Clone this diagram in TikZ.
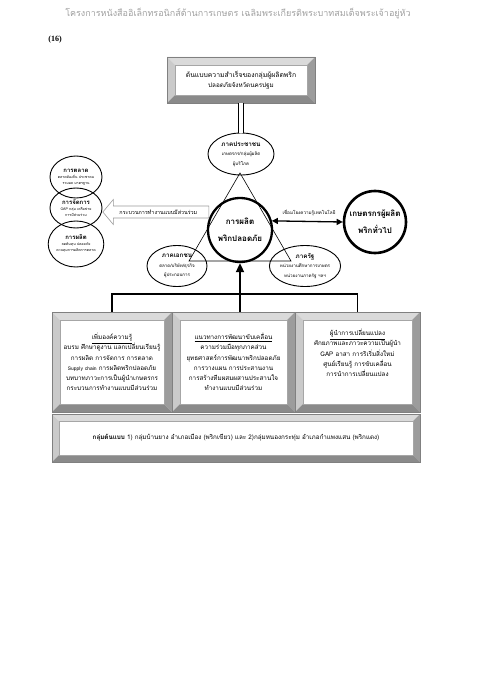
\documentclass[tikz,border=0pt]{standalone}
\usepackage{fontspec}
\setmainfont{Liberation Serif}
\newfontfamily\thaifont[Script=Thai]{Loma}
\usetikzlibrary{shapes.geometric,shapes.arrows,arrows.meta,calc}
\definecolor{hdr}{HTML}{A0A0A0}
\definecolor{bvtop}{HTML}{DADADA}
\definecolor{bvleft}{HTML}{CACACA}
\definecolor{bvright}{HTML}{9C9C9C}
\definecolor{bvbot}{HTML}{8A8A8A}
\newcommand\bevelbox[7]{%
  \fill[bvtop] (#2,#3) -- (#4,#3) -- ({#4-#6},{#3+#6}) -- ({#2+#6},{#3+#6}) -- cycle;
  \fill[bvleft] (#2,#3) -- ({#2+#6},{#3+#6}) -- ({#2+#6},{#5-#6}) -- (#2,#5) -- cycle;
  \fill[bvright] (#4,#3) -- ({#4-#6},{#3+#6}) -- ({#4-#6},{#5-#6}) -- (#4,#5) -- cycle;
  \fill[bvbot] (#2,#5) -- ({#2+#6},{#5-#6}) -- ({#4-#6},{#5-#6}) -- (#4,#5) -- cycle;
  \draw[gray, line width=0.4pt] (#2,#3) rectangle (#4,#5);
  \node[face, minimum width={(#4-#2-2*#6)*1pt}, minimum height={(#5-#3-2*#6)*1pt}] (#1) at ({(#2+#4)/2},{(#3+#5)/2}) {#7};
}
\begin{document}
\begin{tikzpicture}[x=1pt,y=-1pt,
  every node/.style={inner sep=0pt},
  face/.style={draw=gray!70, line width=0.4pt, fill=white, align=center, font=\thaifont\fontsize{6.3}{10.2}\selectfont},
  sector/.style={ellipse, draw, line width=0.9pt, align=center, font=\thaifont\fontsize{4.5}{9.5}\selectfont},
  side/.style={ellipse, draw, line width=0.9pt, align=center, minimum width=52pt, font=\thaifont\fontsize{3.6}{6}\selectfont},
  bigc/.style={circle, draw, align=center, font=\thaifont\bfseries\fontsize{8}{17}\selectfont},
  bracket/.style={line width=1.8pt},
]
\useasboundingbox (0,0) rectangle (480,679);

\node[font=\thaifont\fontsize{9}{12}\selectfont, text=hdr] (header) at (238,14) {โครงการหนังสืออิเล็กทรอนิกส์ด้านการเกษตร เฉลิมพระเกียรติพระบาทสมเด็จพระเจ้าอยู่หัว};
\node[font=\bfseries\fontsize{8}{10}\selectfont] (page) at (55,40) {(16)};

\bevelbox{topbox}{167}{57}{315}{103}{8}{\fontsize{6.8}{14}\selectfont ต้นแบบความสำเร็จของกลุ่มผู้ผลิตพริก\\ปลอดภัยจังหวัดนครปฐม}

% sectors
\node[sector, minimum width=66pt, minimum height=42pt] (people) at (241,154) {\textbf{\fontsize{6.3}{9.5}\selectfont ภาคประชาชน}\\เกษตรกร/กลุ่มผู้ผลิต\\ผู้บริโภค};
\coordinate (apex) at (240,173);
\coordinate (bl) at (189,261);
\coordinate (br) at (291,261);
\draw[line width=0.6pt] (apex) -- (bl) -- (br) -- cycle;
\node[bigc, line width=2.3pt, minimum size=64pt] (core) at (240,230) {การผลิต\\พริกปลอดภัย};
\node[sector, minimum width=60pt, minimum height=41pt] (private) at (177,266) {\textbf{\fontsize{6.3}{9.5}\selectfont ภาคเอกชน}\\ตลาด/บริษัท/ธุรกิจ\\ผู้ประกอบการ};
\node[sector, minimum width=64pt, minimum height=41pt] (state) at (305,266) {\textbf{\fontsize{6.3}{9.5}\selectfont ภาครัฐ}\\หน่วยงานศึกษาการเกษตร\\หน่วยงานภาครัฐ ฯลฯ};
\draw[line width=0.8pt, double, double distance=4.5pt] (topbox.south |- 240,103) -- (people.north);

\node[bigc, line width=2.6pt, minimum size=62pt] (farmers) at (375,222) {เกษตรกรผู้ผลิต\\พริกทั่วไป};
\node[font=\thaifont\fontsize{4.6}{6}\selectfont] (linklbl) at (309,213) {เชื่อมโยงความรู้เทคโนโลยี};
\draw[line width=1.3pt, {Triangle[length=6pt,width=6pt]}-{Triangle[length=6pt,width=6pt]}] (core.16) -- (farmers.west);

% left circles
\node[side, minimum height=42pt] (mkt) at (76,177) {\textbf{\fontsize{6}{9}\selectfont การตลาด}\\ตลาดท้องถิ่น ประชาคม\\รวมผล มาตรฐาน};
\node[side, minimum height=40pt] (mgmt) at (76,208) {\textbf{\fontsize{6}{9}\selectfont การจัดการ}\\GAP กลุ่ม เครือข่าย\\การมีส่วนร่วม};
\node[side, minimum height=46pt] (prod) at (76,244) {\textbf{\fontsize{6}{9}\selectfont การผลิต}\\ลดต้นทุน ปลอดภัย\\ควบคุมการผลิตการตลาด};

\node[single arrow, shape border rotate=180, draw=gray!80, fill=white, line width=0.6pt, minimum height=106pt, minimum width=25pt, single arrow head extend=6pt, single arrow tip angle=100, inner xsep=2pt, inner ysep=3pt, anchor=tip, font=\thaifont\fontsize{5.4}{7}\selectfont] (process) at (mgmt.east |- 0,212) {กระบวนการทำงานแบบมีส่วนร่วม};

% bottom boxes
\bevelbox{box1}{52}{312}{172}{412}{8}{\underline{เพิ่มองค์ความรู้}\\อบรม ศึกษาดูงาน แลกเปลี่ยนเรียนรู้\\การผลิต การจัดการ การตลาด\\{\fontsize{5}{8}\selectfont Supply chain} การผลิตพริกปลอดภัย\\บทบาทภาวะการเป็นผู้นำเกษตรกร\\กระบวนการทำงานแบบมีส่วนร่วม}
\bevelbox{box2}{172}{312}{295}{412}{8}{\underline{แนวทางการพัฒนาขับเคลื่อน}\\ความร่วมมือทุกภาคส่วน\\ยุทธศาสตร์การพัฒนาพริกปลอดภัย\\การวางแผน การประสานงาน\\การสร้างทีมผสมผสานประสานใจ\\ทำงานแบบมีส่วนร่วม}
\bevelbox{box3}{295}{312}{420}{412}{8}{\underline{ผู้นำการเปลี่ยนแปลง}\\ศักยภาพและภาวะความเป็นผู้นำ\\GAP อาสา การริเริ่มสิ่งใหม่\\ศูนย์เรียนรู้ การขับเคลื่อน\\การนำการเปลี่ยนแปลง\\[8pt]}
\bevelbox{bottombox}{52}{414}{420}{462}{7}{\textbf{กลุ่มต้นแบบ} 1) กลุ่มบ้านยาง อำเภอเมือง (พริกเขียว) และ 2)กลุ่มหนองกระทุ่ม อำเภอกำแพงแสน (พริกแดง)}

\coordinate (t1) at ($(box1.north)+(0,-8)$);
\coordinate (t2) at (240,312);
\coordinate (t3) at ($(box3.north)+(0,-8)$);
\coordinate (hub) at (240,294);
\draw[bracket] (t1) |- (hub) -| (t3);
\draw[bracket, -{Triangle[length=9pt,width=8pt]}] (t2) -- (core.south);
\end{tikzpicture}
\end{document}
